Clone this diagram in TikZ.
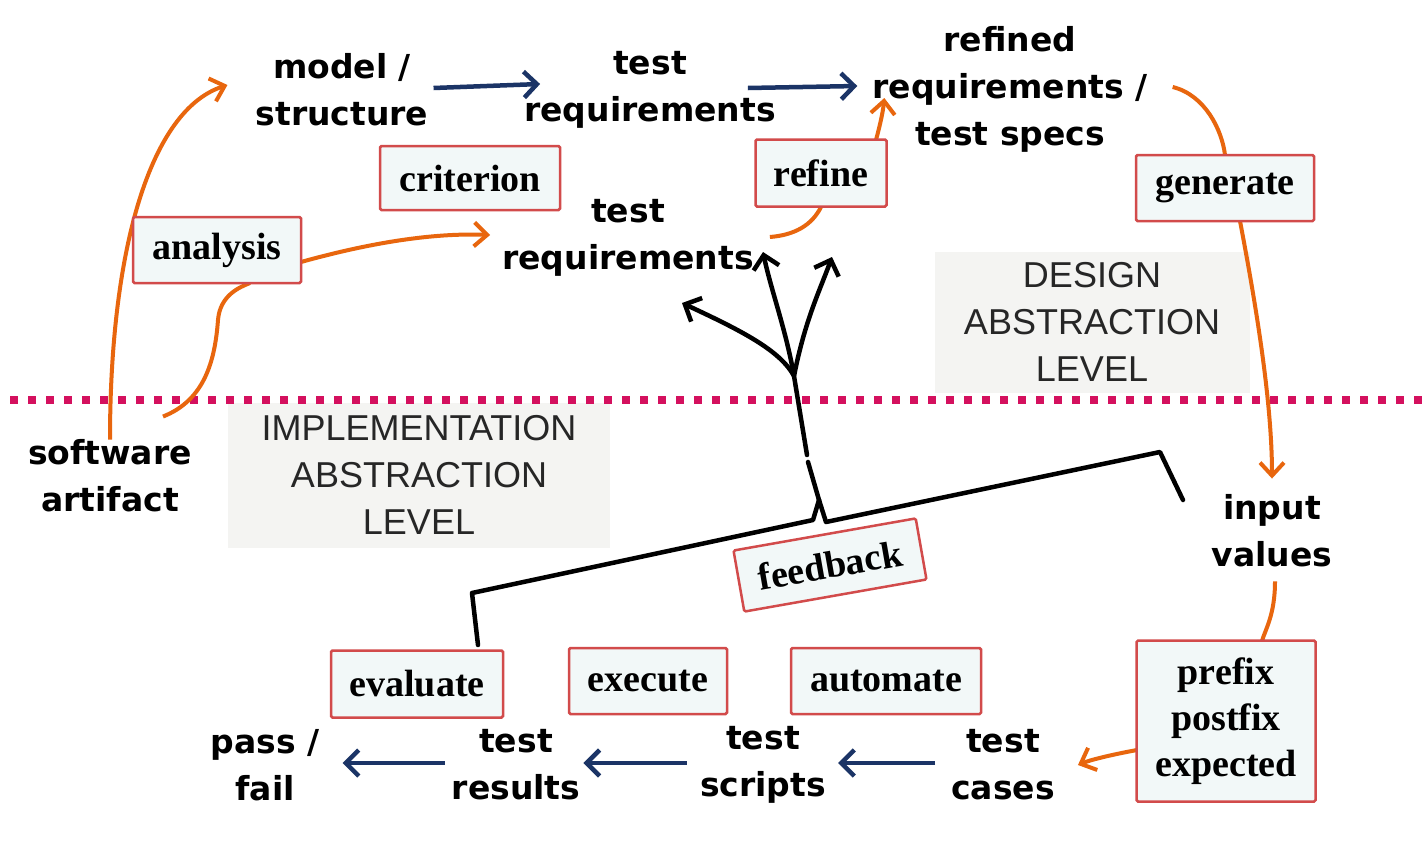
\documentclass[tikz,border=0pt]{standalone}
\usepackage{fontspec}
\newfontfamily\comic{DejaVu Sans}
\newfontfamily\boxfont{Liberation Serif}
\newfontfamily\hand{Liberation Sans}
\usetikzlibrary{arrows.meta,calc}
\definecolor{orng}{HTML}{E8660E}
\definecolor{navy}{HTML}{1B3466}
\definecolor{boxred}{HTML}{D24B4B}
\definecolor{boxfill}{HTML}{F2F8F8}
\definecolor{dotc}{HTML}{D4105E}
\definecolor{bggray}{HTML}{F4F4F2}
\begin{document}
\begin{tikzpicture}[x=1pt,y=-1pt,
  lbl/.style={font=\comic\bfseries\fontsize{33}{47}\selectfont, align=center, inner sep=0pt},
  tbox/.style={draw=boxred, line width=2.5pt, fill=boxfill, rounded corners=1.5pt,
    font=\boxfont\bfseries\fontsize{38}{46}\selectfont, inner sep=0pt, align=center},
  abst/.style={fill=bggray, font=\hand\fontsize{36}{47}\selectfont, align=center, text=black!85, inner sep=0pt},
  oarr/.style={draw=orng, line width=4pt, -{Straight Barb[length=13pt,width=24pt,line width=4pt]}},
  oline/.style={draw=orng, line width=4pt},
  barr/.style={draw=navy, line width=4.5pt, -{Straight Barb[length=13pt,width=26pt,line width=4.5pt]}},
  karr/.style={draw=black, line width=4.5pt, -{Straight Barb[length=13pt,width=26pt,line width=4.5pt]}},
  kline/.style={draw=black, line width=4.5pt, line join=round, line cap=round}
]
\useasboundingbox (0,0) rectangle (1422,846);
\fill[white] (0,0) rectangle (1422,846);

% abstraction panels
\node[abst, minimum width=382pt, minimum height=145pt] (impl) at (419,475) {IMPLEMENTATION\\ABSTRACTION\\LEVEL};
\node[abst, minimum width=315pt, minimum height=141pt] (design) at (1092,322) {DESIGN\\ABSTRACTION\\LEVEL};

% dotted separator
\coordinate (dl) at (10,400);
\coordinate (dr) at (1422,400);
\draw[dotc, line width=8pt, dash pattern=on 8pt off 10pt] (dl) -- (dr);

% labels
\node[lbl] (sw) at (110,476) {software\\artifact};
\node[lbl] (model) at (342,90) {model /\\structure};
\node[lbl] (treqT) at (650,90) {test\\requirements};
\node[lbl] (refined) at (1010,89) {refined\\requirements /\\test specs};
\node[lbl] (treqM) at (628,238) {test\\requirements};
\node[lbl] (input) at (1272,531) {input\\values};
\node[lbl] (cases) at (1003,765) {test\\cases};
\node[lbl] (scripts) at (763,765) {test\\scripts};
\node[lbl] (results) at (516,765) {test\\results};
\node[lbl] (pass) at (265,765) {pass /\\fail};

% orange connectors (behind boxes)
\draw[oarr] (sw.north) .. controls (110,250) and (150,110) .. ($(model.west)+(-28,-5)$);
\draw[oline] ($(sw.north)+(53,-23)$) .. controls (205,400) and (215,360) .. (218,320)
   .. controls (220,295) and (240,287) .. (250,283);
\draw[oarr] (301,262) .. controls (380,240) and (440,233) .. ($(treqM.west)+(-12,-3)$);
\draw[oline] ($(treqM.east)+(16,-1)$) .. controls (795,235) and (812,225) .. (821,207);
\draw[oarr] (876,140) .. controls (880,125) and (883,112) .. ($(refined.west)+(12,9)$);
\draw[oline] ($(refined.east)+(25,-2)$) .. controls (1205,95) and (1222,130) .. (1225,155);
\draw[oarr] (1240,221) .. controls (1255,300) and (1272,400) .. ($(input.north)+(0,-16)$);
\draw[oline] ($(input.south)+(3,14)$) .. controls (1275,615) and (1265,630) .. (1262,641);
\draw[oarr] (1137,750) .. controls (1110,755) and (1090,760) .. ($(cases.east)+(23,0)$);

% blue connectors
\draw[barr] ($(model.east)+(5,-2)$) -- ($(treqT.west)+(16,-6)$);
\draw[barr] ($(treqT.east)+(-28,-2)$) -- ($(refined.west)+(-15,-3)$);
\draw[barr] ($(cases.west)+(-16,-2)$) -- ($(scripts.east)+(12,-2)$);
\draw[barr] ($(scripts.west)+(-13,-2)$) -- ($(results.east)+(3,-2)$);
\draw[barr] ($(results.west)+(-7,-2)$) -- ($(pass.east)+(23,-2)$);

% feedback brace and stem
\coordinate (bl) at (478,645);
\coordinate (blc) at (472,593);
\coordinate (bm) at (819,500);
\coordinate (brc) at (1160,452);
\coordinate (br) at (1183,500);
\coordinate (s1) at (808,462);
\coordinate (s2) at (807,455);
\coordinate (fork) at (794,376);
\draw[kline] (bl) -- (blc) -- (813,520) -- (bm);
\draw[kline] (br) -- (brc) -- (826,522) -- (bm);
\draw[kline] (bm) -- (s1);
\draw[kline] (s2) -- (fork);
\draw[karr] (fork) .. controls (780,350) and (740,330) .. (682,303);
\draw[karr] (fork) .. controls (786,330) and (771,290) .. (763,252);
\draw[karr] (fork) .. controls (805,320) and (820,290) .. (832,257);

% boxes
\node[tbox, minimum width=180pt, minimum height=64pt] (criterion) at (470,178) {criterion};
\node[tbox, minimum width=168pt, minimum height=66pt] (analysis) at (217,250) {analysis};
\node[tbox, minimum width=131pt, minimum height=67pt] (refine) at (821,173) {refine};
\node[tbox, minimum width=178pt, minimum height=66pt] (generate) at (1225,188) {generate};
\node[tbox, minimum width=185pt, minimum height=62pt, rotate=10] (feedback) at (830,565) {feedback};
\node[tbox, minimum width=172pt, minimum height=67pt] (evaluate) at (417,684) {evaluate};
\node[tbox, minimum width=158pt, minimum height=66pt] (execute) at (648,681) {execute};
\node[tbox, minimum width=190pt, minimum height=66pt] (automate) at (886,681) {automate};
\node[tbox, minimum width=179pt, minimum height=161pt] (prefix) at (1226,721) {prefix\\postfix\\expected};
\end{tikzpicture}
\end{document}
